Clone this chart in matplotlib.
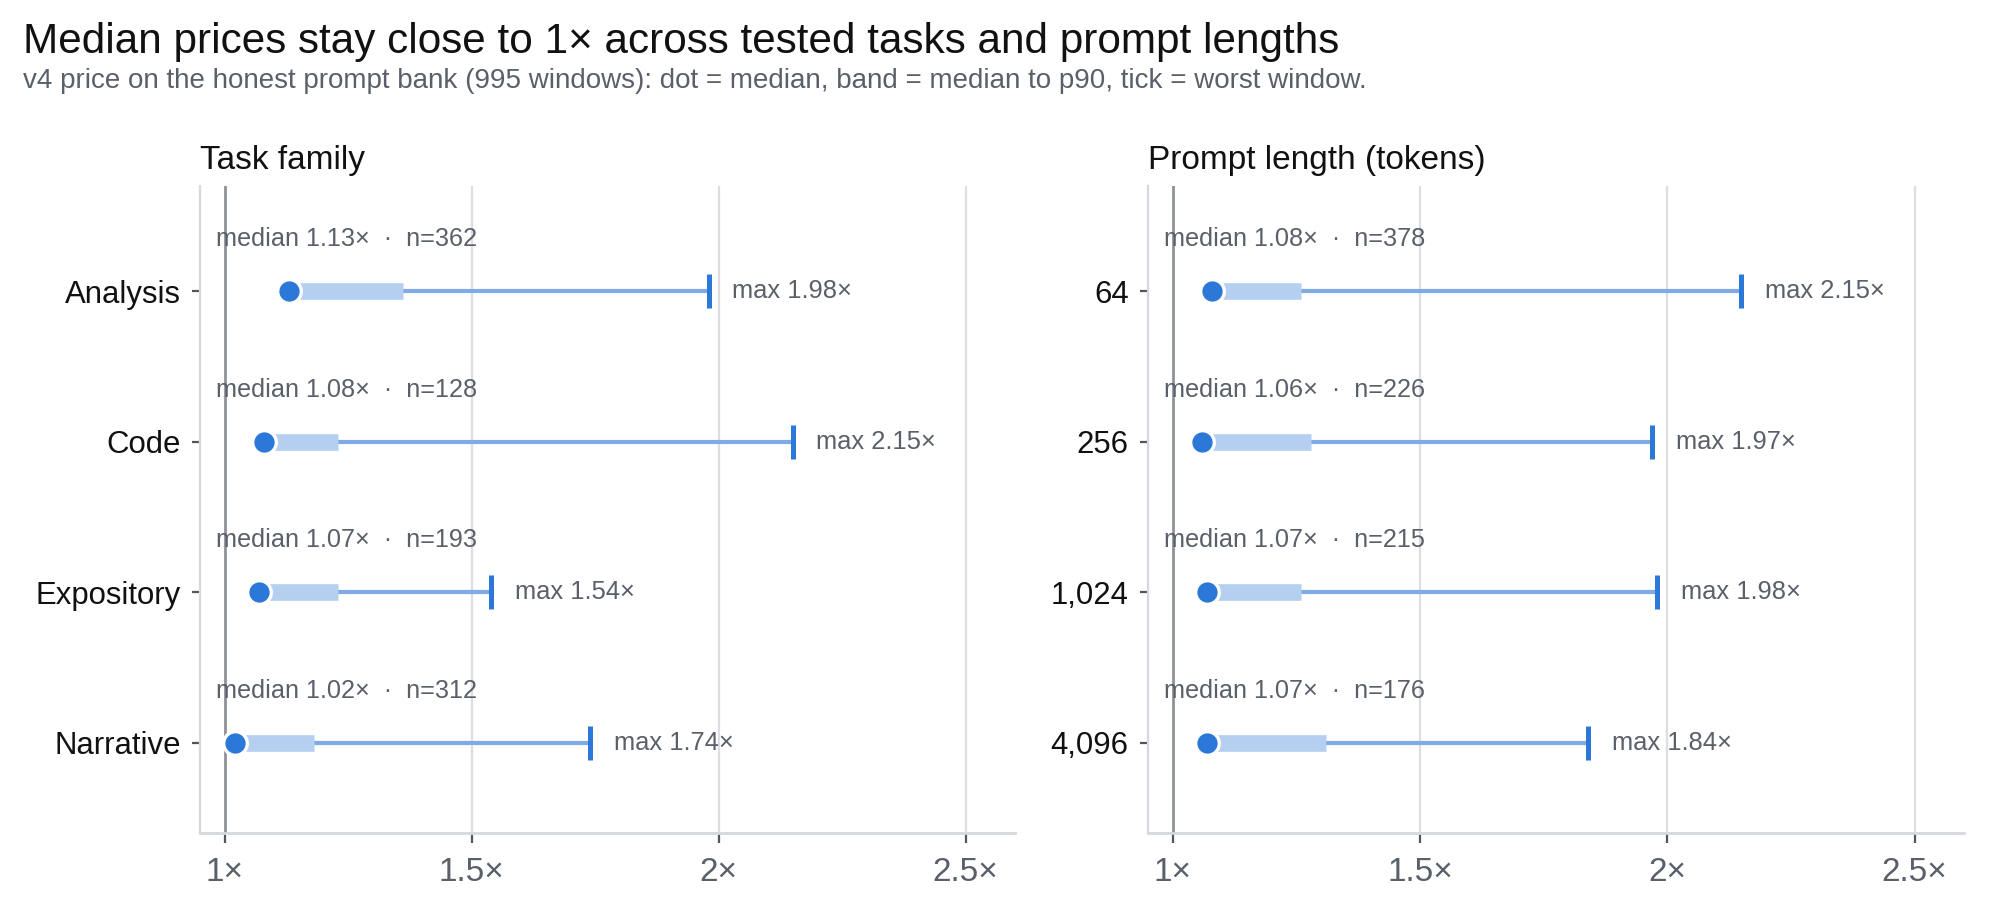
import matplotlib
matplotlib.use("Agg")
import matplotlib.pyplot as plt

plt.rcParams['font.family'] = ['Liberation Sans', 'DejaVu Sans']

# task family panel
task_names = ["Analysis", "Code", "Expository", "Narrative"]
task_median = [1.13, 1.08, 1.07, 1.02]
task_p90 = [1.36, 1.23, 1.23, 1.18]
task_max = [1.98, 2.15, 1.54, 1.74]
task_n = [362, 128, 193, 312]

# prompt length panel
len_names = ["64", "256", "1,024", "4,096"]
len_median = [1.08, 1.06, 1.07, 1.07]
len_p90 = [1.26, 1.28, 1.26, 1.31]
len_max = [2.15, 1.97, 1.98, 1.84]
len_n = [378, 226, 215, 176]

xticks = [1, 1.5, 2, 2.5]
xtick_labels = ["1×", "1.5×", "2×", "2.5×"]

DOT = "#2b78d8"
BAND = "#b5cff0"
WHISK = "#7eabe6"
GREY = "#5a6069"


def draw_panel(ax, title, names, med, p90, mx, ns):
    ys = list(range(len(names)))
    for g in xticks[1:]:
        ax.axvline(g, color="#dcdee2", lw=0.8, zorder=0)
    ax.axvline(1, color="#8e9399", lw=1.0, zorder=1)
    for y, m, p, hi, n in zip(ys, med, p90, mx, ns):
        ax.plot([p, hi], [y, y], color=WHISK, lw=1.5, solid_capstyle="butt", zorder=2)
        ax.plot([m, p], [y, y], color=BAND, lw=6, solid_capstyle="butt", zorder=3)
        ax.plot([hi], [y], marker="|", ms=12, mew=1.8, color=DOT, zorder=4)
        ax.plot([m], [y], "o", ms=8.5, color=DOT, mec="white", mew=1.2, zorder=5)
        ax.annotate("max %.2f×" % hi, (hi, y), xytext=(8.5, 0), textcoords="offset points",
                    va="center", ha="left", fontsize=9.2, color=GREY)
        ax.text(0.982, y - 0.3, "median %.2f×  ·  n=%d" % (m, n),
                va="baseline", ha="left", fontsize=9.1, color=GREY)
    ax.set_xlim(0.95, 2.6)
    ax.set_ylim(3.6, -0.7)
    ax.set_yticks(ys)
    ax.set_yticklabels(names, fontsize=11.2, color="#111111")
    ax.set_xticks(xticks)
    ax.set_xticklabels(xtick_labels, fontsize=12, color=GREY)
    ax.tick_params(axis="y", length=3, width=0.8, color="#555555", pad=4)
    ax.tick_params(axis="x", length=3.5, width=0.8, color="#555555", pad=5)
    for s in ["top", "right"]:
        ax.spines[s].set_visible(False)
    ax.spines["left"].set_color("#d5d8dc")
    ax.spines["bottom"].set_color("#d5d8dc")
    ax.spines["left"].set_linewidth(0.8)
    ax.spines["bottom"].set_linewidth(1.0)
    ax.set_title(title, loc="left", fontsize=12, color="#111111", pad=6)


fig = plt.figure(figsize=(10, 4.595), dpi=200)
ax1 = fig.add_axes([0.1, 0.0936, 0.4075, 0.704])
ax2 = fig.add_axes([0.574, 0.0936, 0.408, 0.704])

draw_panel(ax1, "Task family", task_names, task_median, task_p90, task_max, task_n)
draw_panel(ax2, "Prompt length (tokens)", len_names, len_median, len_p90, len_max, len_n)

fig.text(0.0115, 0.942, "Median prices stay close to 1× across tested tasks and prompt lengths",
         fontsize=15.2, color="#111111", va="baseline")
fig.text(0.0115, 0.904, "v4 price on the honest prompt bank (995 windows): dot = median, "
         "band = median to p90, tick = worst window.",
         fontsize=10, color=GREY, va="baseline")

fig.savefig("out.png", dpi=200)
